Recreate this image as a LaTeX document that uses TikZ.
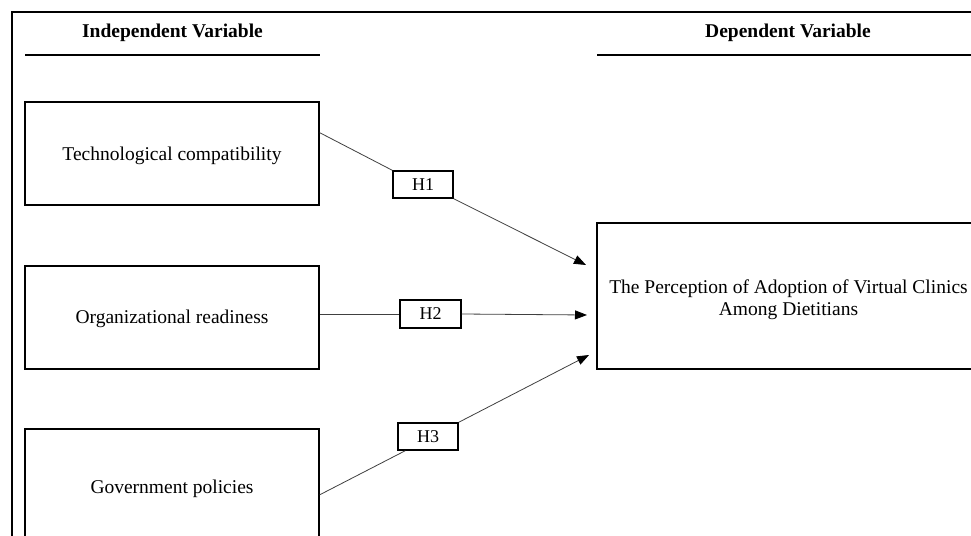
\documentclass[tikz,border=0pt]{standalone}
\usepackage{fontspec}
\setmainfont{Liberation Serif}
\usetikzlibrary{arrows.meta,calc}
\newcommand{\lowertext}[2]{\raisebox{-#1}[\height][\depth]{#2}}
\begin{document}
\begin{tikzpicture}[x=1pt,y=-1pt,
  vbox/.style={draw=black,line width=1.6pt,minimum width=294pt,minimum height=103pt,inner sep=0pt,font=\fontsize{19.5}{22}\selectfont,align=center},
  hbox/.style={draw=black,line width=1.4pt,minimum width=60pt,minimum height=27pt,inner sep=0pt,font=\fontsize{18}{20}\selectfont},
  link/.style={draw=black!75,line width=0.8pt},
  arr/.style={link,-{Triangle[length=12pt,width=9pt,color=black]}},
  head/.style={font=\bfseries\fontsize{19.5}{22}\selectfont},
  rule/.style={line width=1.5pt}]
\clip (0,0) rectangle (971,535);
\fill[white] (0,0) rectangle (971,535);
\draw[line width=2pt] (12,12) rectangle (1000,600);
% headings
\node[head] (ivh) at (172.5,33) {Independent Variable};
\node[head] (dvh) at (788,33) {Dependent Variable};
\draw[rule] (25,55) -- (320,55);
\draw[rule] (597,55) -- (990,55);
% variable boxes
\node[vbox] (tech) at (172,153.5) {\lowertext{2.5pt}{Technological compatibility}};
\node[vbox] (org) at (172,317.5) {\lowertext{1.5pt}{Organizational readiness}};
\node[vbox, minimum height=116pt] (gov) at (172,487) {\lowertext{1.5pt}{Government policies}};
\node[vbox, minimum width=383pt, minimum height=146pt] (dv) at (788.5,296) {\lowertext{4pt}{\begin{tabular}{@{}c@{}}The Perception of Adoption of Virtual Clinics\\Among Dietitians\end{tabular}}};
% hypothesis boxes
\node[hbox] (h1) at (423,184.5) {H1};
\node[hbox, minimum width=61pt, minimum height=28pt] (h2) at (430.5,314) {H2};
\node[hbox] (h3) at (428,436.5) {H3};
% arrow tips
\coordinate (t1) at (586,265);
\coordinate (t2) at (587,315);
\coordinate (t3) at (589,355);
% connectors
\draw[link] (tech.8) -- (h1.north west);
\draw[arr] (h1.south east) -- (t1);
\draw[link] (h2.west -| org.east) -- (h2.west);
\draw[arr] (h2.east) -- (t2);
\draw[link] (gov.-3) -- ($(h3.south west)+(8,0)$);
\draw[arr] (h3.north east) -- (t3);
\end{tikzpicture}
\end{document}
